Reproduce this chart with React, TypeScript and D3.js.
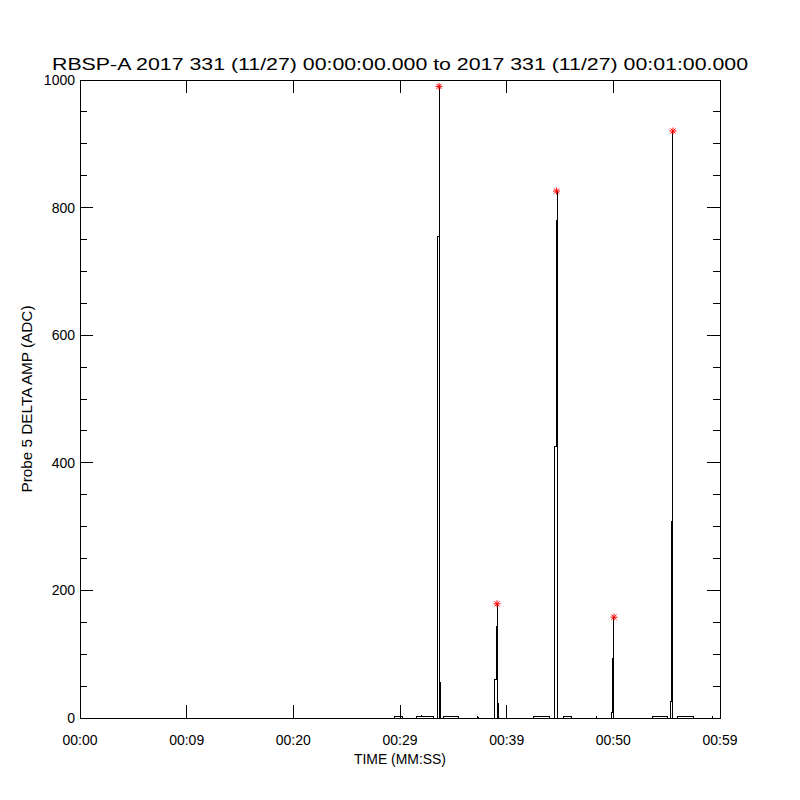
import React from "react";
import * as d3 from "d3";

const TITLE = "RBSP-A 2017 331 (11/27) 00:00:00.000 to 2017 331 (11/27) 00:01:00.000";
const X_TITLE = "TIME (MM:SS)";
const Y_TITLE = "Probe 5 DELTA AMP (ADC)";

const X_TICK_SECONDS = [0, 10, 20, 30, 40, 50, 60];
const X_TICK_LABELS = ["00:00", "00:09", "00:20", "00:29", "00:39", "00:50", "00:59"];
const Y_TICKS = [0, 200, 400, 600, 800, 1000];
const Y_MINOR = [50, 100, 150, 250, 300, 350, 450, 500, 550, 650, 700, 750, 850, 900, 950];

// waveform samples (seconds, ADC)
const TIME_S = [
  0,
  29.5, 29.5, 30.2, 30.2,
  31.5, 31.5, 32.0, 32.0, 32.05, 32.05, 33.1, 33.1,
  33.47, 33.47, 33.56, 33.56, 33.66, 33.66, 33.66, 33.8, 33.8, 33.8,
  34.1, 34.1, 35.5, 35.5,
  37.3, 37.3, 37.35,
  38.906, 38.906, 39.0, 39.0, 39.094, 39.094, 39.094, 39.216, 39.216, 39.216,
  42.5, 42.5, 44.0, 44.0,
  44.46, 44.46, 44.53, 44.53, 44.625, 44.625, 44.72, 44.72, 44.72,
  45.3, 45.3, 46.1, 46.1,
  48.4, 48.4, 48.45,
  49.84, 49.84, 49.875, 49.875, 49.97, 49.97, 50.06, 50.06, 50.06,
  53.7, 53.7, 55.1, 55.1,
  55.38, 55.38, 55.41, 55.41, 55.5, 55.5, 55.59, 55.59, 55.59,
  56.0, 56.0, 57.5, 57.5,
  59.3, 59.3, 59.35,
  60,
];
const AMP = [
  0,
  0, 2, 2, 0,
  0, 2, 2, 4, 4, 2, 2, 0,
  0, 259, 259, 755, 755, 990, 0, 0, 57, 0,
  0, 2, 2, 0,
  0, 3, 0,
  0, 60, 60, 143, 143, 179, 0, 0, 23, 0,
  0, 2, 2, 0,
  0, 8, 8, 425, 425, 779, 779, 826, 0,
  0, 2, 2, 0,
  0, 3, 0,
  0, 8, 8, 94, 94, 150, 150, 158, 0,
  0, 2, 2, 0,
  0, 26, 26, 308, 308, 503, 503, 920, 0,
  0, 2, 2, 0,
  0, 3, 0,
  0,
];

// peak markers
const PEAK_TIME = [33.66, 39.094, 44.68, 50.06, 55.59];
const PEAK_AMP = [990, 179, 826, 158, 920];

const L = 80, R = 720, T = 80, B = 718;
const MAJ = 13, MIN = 7;
const FONT = "'Liberation Sans', Arial, sans-serif";

export default function App() {
  const x = d3.scaleLinear().domain([0, 60]).range([L, R]);
  const y = d3.scaleLinear().domain([0, 1000]).range([B, T]);
  const pts: [number, number][] = TIME_S.map((t, i) => [t, AMP[i]]);
  const line = d3.line<[number, number]>().x((d) => x(d[0])).y((d) => y(d[1]));
  const star = (cx: number, cy: number) => {
    const r = 3.5, d = 2.6;
    return `M${cx - r},${cy}H${cx + r}M${cx},${cy - r}V${cy + r}M${cx - d},${cy - d}L${cx + d},${cy + d}M${cx - d},${cy + d}L${cx + d},${cy - d}`;
  };
  return (
    <svg width={800} height={800} style={{ position: "absolute", left: 0, top: 0, background: "#fff" }}>
      <rect x={0} y={0} width={800} height={800} fill="#fff" />
      <text x={400} y={70} textAnchor="middle" fontFamily={FONT} fontSize={17} textLength={696} lengthAdjust="spacingAndGlyphs" fill="#000">{TITLE}</text>
      <path d={line(pts) || ""} fill="none" stroke="#000" strokeWidth={1} shapeRendering="crispEdges" />
      <g stroke="#000" strokeWidth={1} shapeRendering="crispEdges">
        <rect x={L} y={T} width={R - L} height={B - T} fill="none" />
        {X_TICK_SECONDS.map((s) => (
          <g key={"xt" + s}>
            <line x1={x(s)} x2={x(s)} y1={B} y2={B - MAJ} />
            <line x1={x(s)} x2={x(s)} y1={T} y2={T + MAJ} />
          </g>
        ))}
        {Y_TICKS.map((v) => (
          <g key={"yt" + v}>
            <line x1={L} x2={L + MAJ} y1={y(v)} y2={y(v)} />
            <line x1={R} x2={R - MAJ} y1={y(v)} y2={y(v)} />
          </g>
        ))}
        {Y_MINOR.map((v) => (
          <g key={"ym" + v}>
            <line x1={L} x2={L + MIN} y1={y(v)} y2={y(v)} />
            <line x1={R} x2={R - MIN} y1={y(v)} y2={y(v)} />
          </g>
        ))}
      </g>
      <g stroke="#ff0000" strokeWidth={1} fill="none">
        {PEAK_TIME.map((t, i) => (
          <path key={"pk" + i} d={star(x(t), y(PEAK_AMP[i]))} />
        ))}
      </g>
      <g fontFamily={FONT} fontSize={14} fill="#000">
        {X_TICK_SECONDS.map((s, i) => (
          <text key={"xl" + s} x={x(s)} y={745} textAnchor="middle">{X_TICK_LABELS[i]}</text>
        ))}
        {Y_TICKS.map((v) => (
          <text key={"yl" + v} x={75} y={y(v) + 5} textAnchor="end">{v}</text>
        ))}
        <text x={400} y={764} textAnchor="middle" fontSize={14} textLength={92} lengthAdjust="spacingAndGlyphs">{X_TITLE}</text>
        <text transform={`translate(32,${399}) rotate(-90)`} textAnchor="middle" fontSize={14} textLength={187} lengthAdjust="spacingAndGlyphs">{Y_TITLE}</text>
      </g>
    </svg>
  );
}
